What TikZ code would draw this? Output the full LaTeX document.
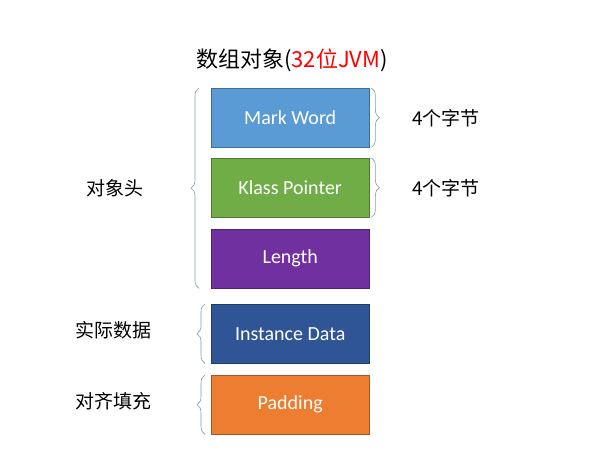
\documentclass[tikz,border=0pt]{standalone}
\usepackage{fontspec}
\setmainfont{Carlito}
\newfontfamily\cjk{Noto Sans CJK SC}
\usetikzlibrary{decorations.pathreplacing}
\definecolor{cMW}{HTML}{5B9BD5}
\definecolor{cKP}{HTML}{70AD47}
\definecolor{cLE}{HTML}{7030A0}
\definecolor{cID}{HTML}{2F5597}
\definecolor{cPA}{HTML}{ED7D31}
\definecolor{brc}{HTML}{7F9BB8}
\begin{document}
\begin{tikzpicture}[x=1pt,y=1pt,
  fieldbox/.style={draw=#1!70!black,fill=#1,minimum width=158pt,minimum height=59pt,text=white,font=\fontsize{20}{24}\selectfont,anchor=north west,inner sep=0pt},
  bracestyle/.style={draw=brc,semithick,decorate,decoration={brace,amplitude=8pt}},
  lbl/.style={font=\cjk\fontsize{19}{22}\selectfont}]
\useasboundingbox (0,0) rectangle (614,475);
\node (title) at (292,415) {\cjk\fontsize{22}{26}\selectfont 数组对象(\textcolor{red}{32位JVM})};
\node[fieldbox=cMW] (mw) at (211,387) {Mark Word};
\node[fieldbox=cKP] (kp) at (211,317) {Klass Pointer};
\node[fieldbox=cLE] (le) at (211,246) {Length};
\node[fieldbox=cID] (id) at (211,171) {Instance Data};
\node[fieldbox=cPA] (pa) at (211,100) {Padding};
\draw[bracestyle] ([xshift=-12pt]le.south west) -- ([xshift=-12pt]mw.north west);
\draw[bracestyle] ([xshift=-6pt]id.south west) -- ([xshift=-6pt]id.north west);
\draw[bracestyle] ([xshift=-6pt]pa.south west) -- ([xshift=-6pt]pa.north west);
\draw[bracestyle] ([xshift=2pt]mw.north east) -- ([xshift=2pt]mw.south east);
\draw[bracestyle] ([xshift=2pt]kp.north east) -- ([xshift=2pt]kp.south east);
\node[lbl] (h) at (115,287) {对象头};
\node[lbl] (d) at (113,145) {实际数据};
\node[lbl] (p) at (113,74) {对齐填充};
\node[lbl] (m4) at (446,357) {4个字节};
\node[lbl] (k4) at (446,287) {4个字节};
\end{tikzpicture}
\end{document}
